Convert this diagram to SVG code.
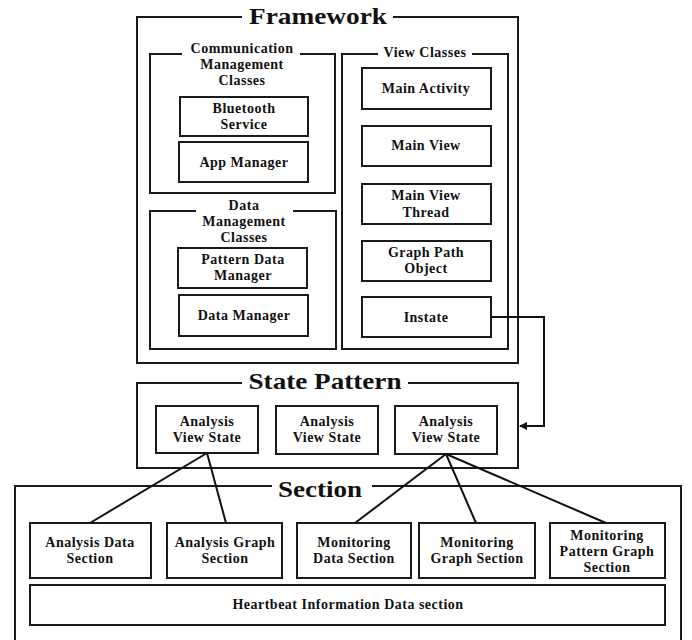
<svg xmlns="http://www.w3.org/2000/svg" width="692" height="640" viewBox="0 0 692 640">
<style>
.b{fill:#fff;stroke:#1a1a1a;stroke-width:2}
.f{fill:none;stroke:#1a1a1a;stroke-width:2}
.t{font-family:"Liberation Serif","Times New Roman",serif;font-weight:bold;font-size:14px;letter-spacing:0.5px;fill:#111;text-anchor:middle}
.h{font-family:"Liberation Serif","Times New Roman",serif;font-weight:bold;font-size:24px;fill:#111;text-anchor:middle}
.c{fill:none;stroke:#111;stroke-width:2}
</style>
<defs>
<marker id="ah" markerWidth="8" markerHeight="8" refX="7" refY="4" orient="auto" markerUnits="userSpaceOnUse">
<path d="M0,0 L8,4 L0,8 Z" fill="#111"/>
</marker>
</defs>
<rect width="692" height="640" fill="#fff"/>

<g id="framework">
<path class="f" d="M242,17 H137 V363 H518 V17 H393"/>
<text class="h" x="318" y="24" textLength="138" lengthAdjust="spacingAndGlyphs">Framework</text>
</g>

<g id="comm-mgmt">
<path class="f" d="M182,54 H150 V193 H335 V54 H300"/>
<text class="t" x="242" y="53">Communication</text>
<text class="t" x="242" y="69">Management</text>
<text class="t" x="242" y="85">Classes</text>
</g>
<g id="bluetooth-service">
<rect class="b" x="180" y="97" width="128" height="39"/>
<text class="t" x="244" y="113">Bluetooth</text>
<text class="t" x="244" y="129">Service</text>
</g>
<g id="app-manager">
<rect class="b" x="179" y="142" width="129" height="40"/>
<text class="t" x="244" y="167">App Manager</text>
</g>

<g id="data-mgmt">
<path class="f" d="M196,211 H150 V349 H336 V211 H293"/>
<text class="t" x="244" y="210">Data</text>
<text class="t" x="244" y="226">Management</text>
<text class="t" x="244" y="242">Classes</text>
</g>
<g id="pattern-data-manager">
<rect class="b" x="178" y="248" width="129" height="40"/>
<text class="t" x="243" y="264">Pattern Data</text>
<text class="t" x="243" y="280">Manager</text>
</g>
<g id="data-manager">
<rect class="b" x="179" y="295" width="129" height="41"/>
<text class="t" x="244" y="320">Data Manager</text>
</g>

<g id="view-classes">
<path class="f" d="M378,54 H342 V349 H508 V54 H472"/>
<text class="t" x="425" y="57">View Classes</text>
</g>
<g id="main-activity">
<rect class="b" x="362" y="68" width="129" height="41"/>
<text class="t" x="426" y="93">Main Activity</text>
</g>
<g id="main-view">
<rect class="b" x="362" y="126" width="129" height="40"/>
<text class="t" x="426" y="150">Main View</text>
</g>
<g id="main-view-thread">
<rect class="b" x="362" y="184" width="129" height="40"/>
<text class="t" x="426" y="200">Main View</text>
<text class="t" x="426" y="217">Thread</text>
</g>
<g id="graph-path-object">
<rect class="b" x="362" y="241" width="129" height="40"/>
<text class="t" x="426" y="257">Graph Path</text>
<text class="t" x="426" y="273">Object</text>
</g>
<g id="instate">
<rect class="b" x="362" y="297" width="129" height="40"/>
<text class="t" x="426" y="322">Instate</text>
</g>

<g id="state-pattern">
<path class="f" d="M242,383 H137 V468 H518 V383 H408"/>
<text class="h" x="325" y="389" textLength="153" lengthAdjust="spacingAndGlyphs">State Pattern</text>
</g>
<g id="avs1">
<rect class="b" x="156" y="406" width="102" height="47"/>
<text class="t" x="207" y="426">Analysis</text>
<text class="t" x="207" y="442">View State</text>
</g>
<g id="avs2">
<rect class="b" x="276" y="406" width="102" height="48"/>
<text class="t" x="327" y="426">Analysis</text>
<text class="t" x="327" y="442">View State</text>
</g>
<g id="avs3">
<rect class="b" x="395" y="406" width="102" height="48"/>
<text class="t" x="446" y="426">Analysis</text>
<text class="t" x="446" y="442">View State</text>
</g>

<g id="section">
<path class="f" d="M272,486 H15 V645 H681 V486 H372"/>
<text class="h" x="320" y="497" textLength="84" lengthAdjust="spacingAndGlyphs">Section</text>
</g>
<g id="analysis-data-section">
<rect class="b" x="30" y="523" width="121" height="55"/>
<text class="t" x="90" y="547">Analysis Data</text>
<text class="t" x="90" y="563">Section</text>
</g>
<g id="analysis-graph-section">
<rect class="b" x="167" y="523" width="115" height="55"/>
<text class="t" x="225" y="547">Analysis Graph</text>
<text class="t" x="225" y="563">Section</text>
</g>
<g id="monitoring-data-section">
<rect class="b" x="297" y="523" width="114" height="55"/>
<text class="t" x="354" y="547">Monitoring</text>
<text class="t" x="354" y="563">Data Section</text>
</g>
<g id="monitoring-graph-section">
<rect class="b" x="419" y="523" width="116" height="55"/>
<text class="t" x="477" y="547">Monitoring</text>
<text class="t" x="477" y="563">Graph Section</text>
</g>
<g id="monitoring-pattern-graph-section">
<rect class="b" x="550" y="523" width="115" height="55"/>
<text class="t" x="607" y="540">Monitoring</text>
<text class="t" x="607" y="556">Pattern Graph</text>
<text class="t" x="607" y="572">Section</text>
</g>
<g id="heartbeat">
<rect class="b" x="30" y="585" width="635" height="40"/>
<text class="t" x="348" y="609">Heartbeat Information Data section</text>
</g>

<g id="connectors">
<path class="c" d="M491,317 H544 V426 H520" marker-end="url(#ah)"/>
<line class="c" x1="207" y1="453" x2="90" y2="523"/>
<line class="c" x1="207" y1="453" x2="226" y2="523"/>
<line class="c" x1="446" y1="454" x2="355" y2="523"/>
<line class="c" x1="446" y1="454" x2="476" y2="523"/>
<line class="c" x1="446" y1="454" x2="606" y2="523"/>
</g>
</svg>
